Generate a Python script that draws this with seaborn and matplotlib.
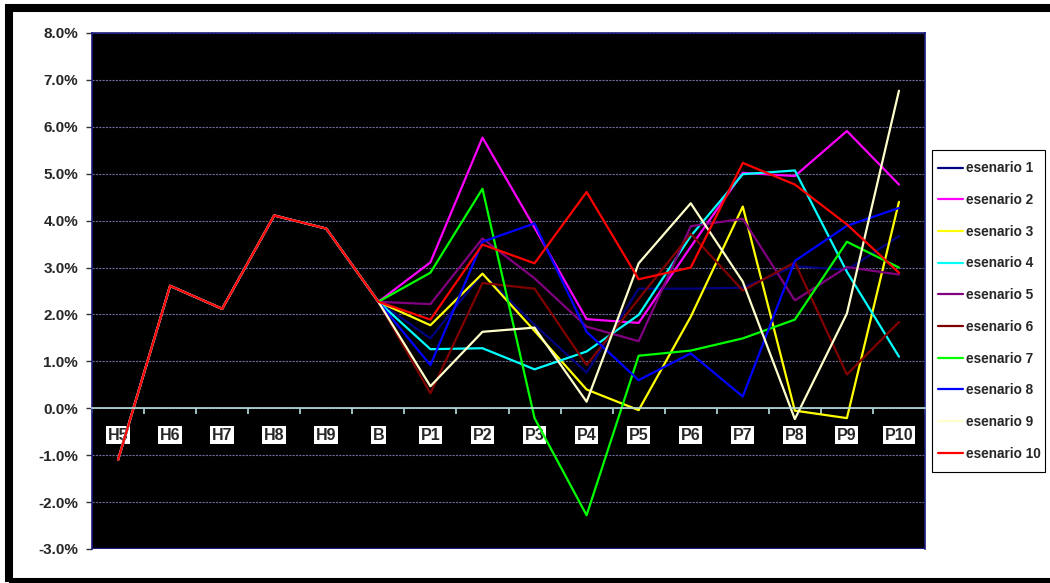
import matplotlib
matplotlib.use("Agg")
import matplotlib.pyplot as plt
from matplotlib.patches import Rectangle
from matplotlib.ticker import FuncFormatter, FixedLocator
import seaborn as sns
import pandas as pd

# ---- data ----
categories = ["H5", "H6", "H7", "H8", "H9", "B",
              "P1", "P2", "P3", "P4", "P5", "P6", "P7", "P8", "P9", "P10"]
history = [-1.10, 2.61, 2.12, 4.11, 3.83, 2.27]   # H5..B, common to all scenarios (%)

scenario_names = [f"esenario {i}" for i in range(1, 11)]
esenario_1 = [1.49, 2.87, 1.78, 0.76, 2.55, 2.55, 2.57, 3.03, 2.95, 3.67]
esenario_2 = [3.11, 5.77, 3.85, 1.90, 1.82, 3.44, 5.02, 4.95, 5.91, 4.77]
esenario_3 = [1.77, 2.87, 1.65, 0.40, -0.04, 1.95, 4.30, -0.05, -0.21, 4.40]
esenario_4 = [1.26, 1.28, 0.83, 1.21, 1.99, 3.67, 4.99, 5.07, 2.91, 1.10]
esenario_5 = [2.22, 3.62, 2.77, 1.74, 1.43, 3.88, 4.04, 2.30, 3.01, 2.85]
esenario_6 = [0.32, 2.67, 2.55, 0.92, 2.33, 3.72, 2.51, 3.11, 0.72, 1.84]
esenario_7 = [2.89, 4.68, -0.21, -2.28, 1.12, 1.23, 1.49, 1.89, 3.55, 3.00]
esenario_8 = [0.92, 3.55, 3.94, 1.63, 0.60, 1.17, 0.25, 3.14, 3.89, 4.27]
esenario_9 = [0.47, 1.63, 1.72, 0.14, 3.09, 4.37, 2.70, -0.23, 2.02, 6.77]
esenario_10 = [1.89, 3.49, 3.09, 4.61, 2.75, 3.00, 5.23, 4.77, 3.92, 2.89]
projections = [esenario_1, esenario_2, esenario_3, esenario_4, esenario_5,
               esenario_6, esenario_7, esenario_8, esenario_9, esenario_10]

colors = ["#000080", "#FF00FF", "#FFFF00", "#00FFFF", "#800080",
          "#800000", "#00FF00", "#0000FF", "#FFFFCC", "#FF0000"]

rows = []
for name, proj in zip(scenario_names, projections):
    for i, v in enumerate(history + proj):
        rows.append({"pos": i, "value": v, "scenario": name})
df = pd.DataFrame(rows)

# ---- styling ----
sns.set_style("white")
plt.rcParams["font.family"] = ["Liberation Sans", "DejaVu Sans"]
plt.rcParams["font.weight"] = "bold"

W, H = 1050, 583
fig = plt.figure(figsize=(W / 100, H / 100), dpi=100)
fig.patch.set_facecolor("white")
ax = fig.add_axes([92 / W, 1 - 549 / H, (925 - 92) / W, (549 - 33) / H])
ax.set_facecolor("black")

sns.lineplot(data=df, x="pos", y="value", hue="scenario",
             hue_order=scenario_names, palette=dict(zip(scenario_names, colors)),
             sort=False, estimator=None, linewidth=1.6, ax=ax, legend=True)

ax.set_xlim(-0.5, len(categories) - 0.5)
ax.set_ylim(-3, 8)
ax.set_xlabel("")
ax.set_ylabel("")

# y axis
ax.set_yticks(range(-3, 9))
ax.yaxis.set_major_formatter(FuncFormatter(lambda v, p: f"{v:.1f}%"))
ax.tick_params(axis="y", which="major", left=True, length=4, width=1,
               color="#333333", labelsize=11, pad=6)
for lab in ax.get_yticklabels():
    lab.set_fontweight("bold")

# grid
ax.yaxis.grid(True, color="#6a6a9a", linewidth=0.8, linestyle=(0, (2, 1)))
ax.xaxis.grid(False)
ax.set_axisbelow(True)

# x axis at zero
ax.spines["bottom"].set_position(("data", 0))
ax.spines["bottom"].set_color("#b8e0e0")
ax.spines["bottom"].set_linewidth(1.2)
for s in ["left", "top", "right"]:
    ax.spines[s].set_color("#1a1a80")
    ax.spines[s].set_linewidth(1.2)
ax.axhline(-3, color="#1a1a80", linewidth=2.4)

ax.set_xticks(range(len(categories)))
ax.set_xticklabels(categories)
ax.xaxis.set_minor_locator(FixedLocator([i - 0.5 for i in range(len(categories) + 1)]))
ax.tick_params(axis="x", which="major", bottom=True, length=0, labelsize=11.5, pad=14)
ax.tick_params(axis="x", which="minor", bottom=True, length=4.3, width=1.2,
               color="#b8e0e0", direction="out")
for lab in ax.get_xticklabels():
    lab.set_fontweight("bold")
    lab.set_bbox(dict(facecolor="white", edgecolor="none", pad=1.3))

# legend (frame drawn separately, behind the axes layer)
fig.add_artist(Rectangle((932 / W, 1 - 472 / H), (1045 - 932) / W, (472 - 150) / H,
                         transform=fig.transFigure, facecolor="white",
                         edgecolor="black", linewidth=0.8, zorder=-1))
leg = ax.legend(loc="upper left", bbox_to_anchor=(937 / W, 1 - 160 / H),
                bbox_transform=fig.transFigure, frameon=False,
                prop={"size": 9.8, "weight": "bold"}, handlelength=1.8,
                handletextpad=0.2, labelspacing=1.30, borderpad=0.1,
                borderaxespad=0)
leg.set_zorder(5)
for line in leg.get_lines():
    line.set_linewidth(1.6)

# outer frame (cut at right and bottom, as in the reference)
fig.add_artist(Rectangle((9 / W, 1 - 582 / H), 1.05, (582 - 8) / H,
                         transform=fig.transFigure, fill=False,
                         edgecolor="black", linewidth=5.8, clip_on=False))

fig.savefig("out.png", dpi=100, facecolor="white")
